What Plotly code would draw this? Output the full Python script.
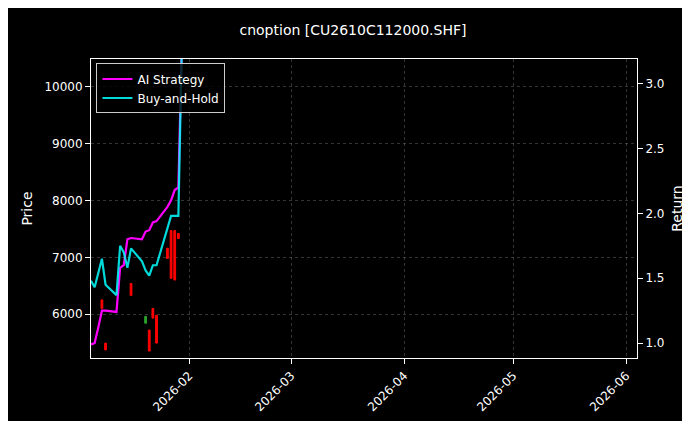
import plotly.graph_objects as go

# trading days shown on the chart
dates = ["2026-01-05", "2026-01-06", "2026-01-07", "2026-01-08", "2026-01-09",
         "2026-01-12", "2026-01-13", "2026-01-14", "2026-01-15", "2026-01-16",
         "2026-01-19", "2026-01-20", "2026-01-21", "2026-01-22", "2026-01-23",
         "2026-01-26", "2026-01-27", "2026-01-28", "2026-01-29", "2026-01-30"]

ai_strategy = [0.99, 1.00, 1.12, 1.25, 1.25, 1.24, 1.58, 1.60, 1.80, 1.81,
               1.80, 1.86, 1.87, 1.93, 1.94, 2.05, 2.10, 2.18, 2.20, 3.35]
buy_hold = [1.48, 1.43, 1.54, 1.65, 1.45, 1.37, 1.75, 1.70, 1.58, 1.73,
            1.63, 1.56, 1.52, 1.60, 1.60, 1.88, 1.98, 1.98, 1.98, 3.35]

# candles (only the days with visible bodies)
c_dates = ["2026-01-08", "2026-01-09", "2026-01-16", "2026-01-20", "2026-01-21",
           "2026-01-22", "2026-01-23", "2026-01-26", "2026-01-27", "2026-01-28", "2026-01-29"]
c_open = [6250, 5490, 6540, 5840, 5720, 6100, 5980, 7160, 7470, 7470, 7420]
c_close = [6100, 5370, 6330, 5960, 5350, 5930, 5490, 6980, 6630, 6600, 7330]
c_high = [6250, 5490, 6540, 5960, 5720, 6100, 5980, 7160, 7470, 7470, 7420]
c_low = [6100, 5370, 6330, 5840, 5350, 5930, 5490, 6980, 6630, 6600, 7330]

fig = go.Figure()
fig.add_trace(go.Candlestick(
    x=c_dates, open=c_open, high=c_high, low=c_low, close=c_close,
    increasing=dict(line=dict(color="#2ca02c", width=1), fillcolor="#2ca02c"),
    decreasing=dict(line=dict(color="#ff0000", width=1), fillcolor="#ff0000"),
    whiskerwidth=0, showlegend=False, yaxis="y"))
fig.add_trace(go.Scatter(x=dates, y=ai_strategy, mode="lines", name="AI Strategy",
                         line=dict(color="#ff00ff", width=2.2), yaxis="y2"))
fig.add_trace(go.Scatter(x=dates, y=buy_hold, mode="lines", name="Buy-and-Hold",
                         line=dict(color="#00ffff", width=2.2), yaxis="y2",
                         opacity=0.85))

grid = dict(showgrid=True, gridcolor="rgba(150,150,150,0.35)", griddash="dot", gridwidth=0.6)

fig.update_layout(
    width=690, height=421,
    paper_bgcolor="black", plot_bgcolor="black",
    font=dict(family="DejaVu Sans", color="white", size=12),
    title=dict(text="cnoption [CU2610C112000.SHF]", x=0.5, y=0.96, xanchor="center",
               font=dict(size=14)),
    margin=dict(l=83, r=61, t=51, b=71, autoexpand=False),
    showlegend=True,
    legend=dict(x=0.01, y=0.985, xanchor="left", yanchor="top",
                bgcolor="rgba(0,0,0,0.8)", bordercolor="#cccccc", borderwidth=1,
                font=dict(size=12)),
    xaxis=dict(type="date", range=["2026-01-05", "2026-06-04"],
               tickvals=["2026-02-01", "2026-03-01", "2026-04-01", "2026-05-01", "2026-06-01"],
               ticktext=["2026-02", "2026-03", "2026-04", "2026-05", "2026-06"],
               tickangle=-45, ticks="outside", tickcolor="white",
               rangeslider=dict(visible=False),
               showline=True, linecolor="white", mirror=True, **grid),
    yaxis=dict(title=dict(text="Price", standoff=8), range=[5228, 10490],
               tickvals=[6000, 7000, 8000, 9000, 10000], tickformat="d",
               ticks="outside", tickcolor="white",
               showline=True, linecolor="white", **grid),
    yaxis2=dict(title=dict(text="Return", standoff=8), overlaying="y", side="right",
                range=[0.885, 3.19], tickvals=[1.0, 1.5, 2.0, 2.5, 3.0],
                tickformat=".1f", ticks="outside", tickcolor="white",
                showline=True, linecolor="white", showgrid=False, zeroline=False),
)

fig.write_html("out.html")
